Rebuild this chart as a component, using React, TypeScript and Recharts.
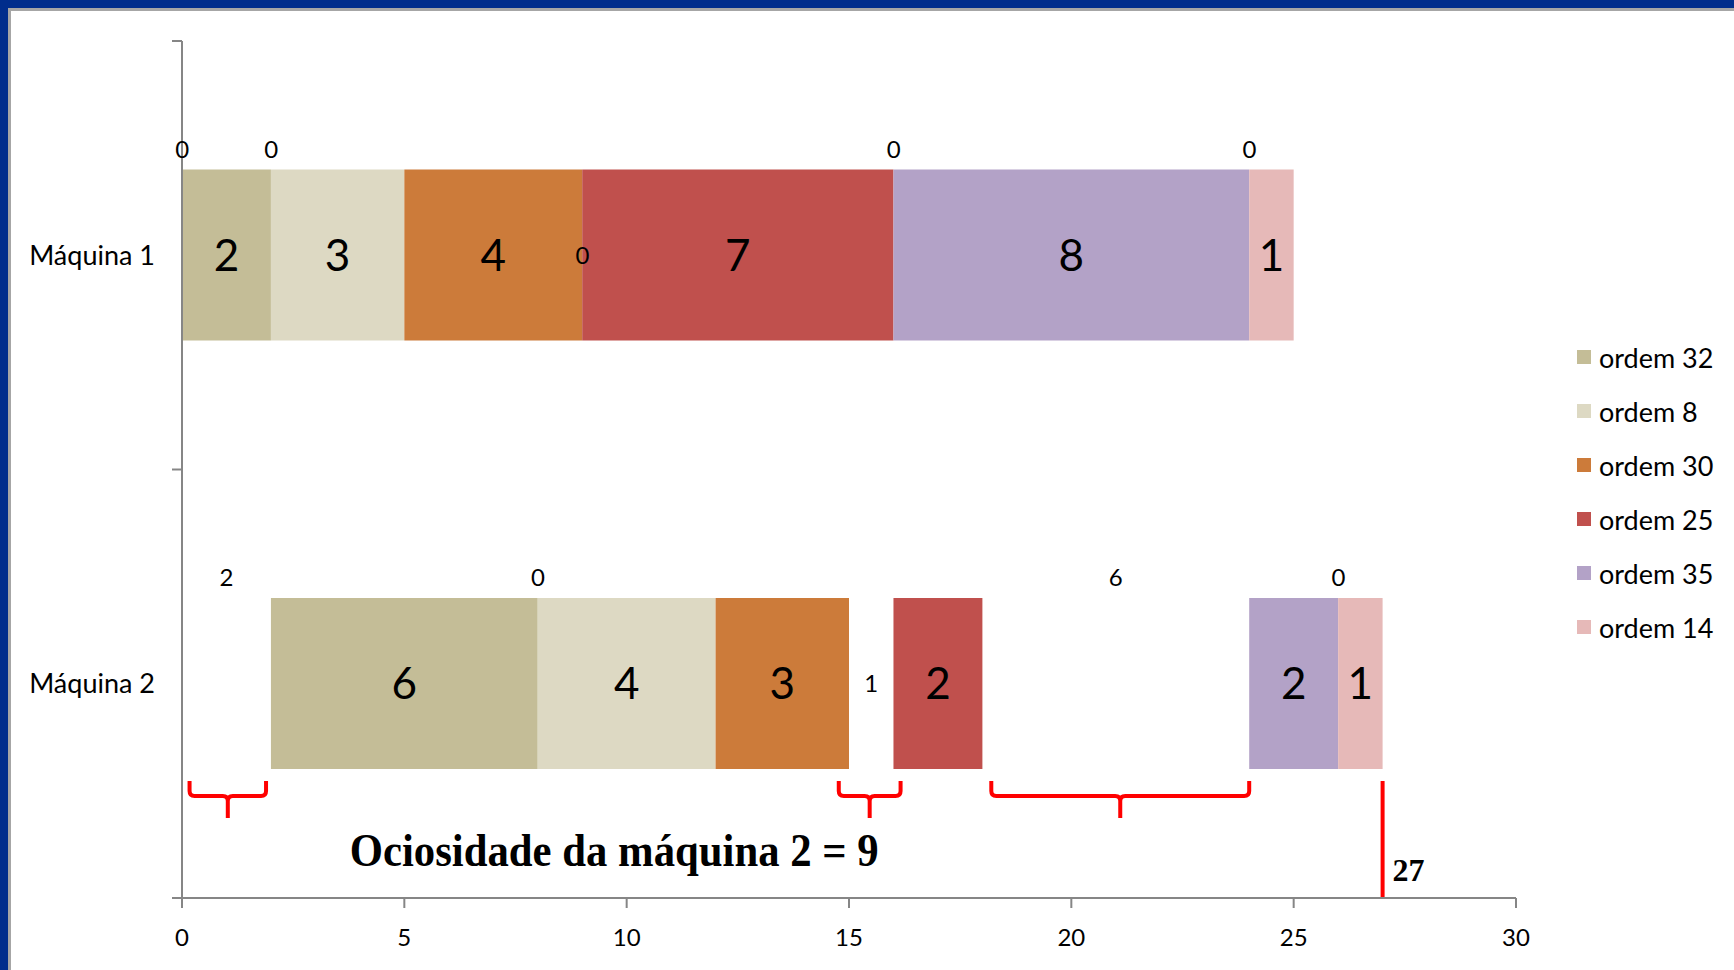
import React from 'react';
import { BarChart, Bar, XAxis, YAxis, LabelList, Legend, ReferenceLine, ReferenceDot } from 'recharts';

// ---- data ----
const machines = ['Máquina 1', 'Máquina 2'];
const orders = ['ordem 32', 'ordem 8', 'ordem 30', 'ordem 25', 'ordem 35', 'ordem 14'];
const orderColors = ['#C4BD97', '#DDD9C3', '#CC7B3A', '#C0504D', '#B3A2C7', '#E6B9B8'];
// idle time before each order (transparent stacked bars)
const waitMaquina1 = [0, 0, 0, 0, 0, 0];
const waitMaquina2 = [2, 0, 0, 1, 6, 0];
// processing time of each order
const procMaquina1 = [2, 3, 4, 7, 8, 1];
const procMaquina2 = [6, 4, 3, 2, 2, 1];
// where the idle-time label of each order is shown
const waitLabelPlacement = ['top', 'top', 'none', 'center', 'top', 'top'];
const xTicks = [0, 5, 10, 15, 20, 25, 30];
const yBoundaryTicks = [0, 1, 2];
// idle gaps on Máquina 2 marked by braces (start, end)
const idleBraceStart = [0.17, 14.77, 18.2];
const idleBraceEnd = [1.89, 16.16, 24.0];
const braceTop = 1.727;
const braceBar = 1.762;
const makespan = 27;
const idleText = 'Ociosidade da máquina 2 = 9';
const idleTextPos = { x: 9.72, y: 1.89 };
const makespanTextPos = { x: 27.22, y: 1.935 };

const waits = [waitMaquina1, waitMaquina2];
const procs = [procMaquina1, procMaquina2];

const data = machines.map((m, mi) => {
  const row: any = { machine: m };
  orders.forEach((_, oi) => {
    row[`w${oi}`] = waits[mi][oi];
    row[`p${oi}`] = procs[mi][oi];
  });
  return row;
});

const FONT = 'Lato, "Open Sans", sans-serif';
const AXIS = '#868686';

const Brace = (props: any) => {
  const { x1, y1, x2, y2 } = props;
  const l = Math.min(x1, x2);
  const r = Math.max(x1, x2);
  const top = Math.min(y1, y2);
  const bar = Math.max(y1, y2);
  const rad = 5;
  const stem = 22;
  const xm = (l + r) / 2;
  const d = `M${l},${top} L${l},${bar - rad} Q${l},${bar} ${l + rad},${bar} L${xm - rad},${bar} Q${xm},${bar} ${xm},${bar + rad} L${xm},${bar + stem} M${xm},${bar + rad} Q${xm},${bar} ${xm + rad},${bar} L${r - rad},${bar} Q${r},${bar} ${r},${bar - rad} L${r},${top}`;
  return <path d={d} fill="none" stroke="#FF0000" strokeWidth={4} strokeLinejoin="round" />;
};

const YTickMark = (props: any) => {
  const x = Math.min(props.x1, props.x2);
  return <line x1={x - 10} y1={props.y1} x2={x} y2={props.y1} stroke={AXIS} strokeWidth={2} />;
};

const renderLegend = () => (
  <div style={{ display: 'flex', flexDirection: 'column' }}>
    {orders.map((o, i) => (
      <div key={o} style={{ height: 54, display: 'flex', alignItems: 'center' }}>
        <span style={{ width: 14, height: 14, background: orderColors[i], marginRight: 8, display: 'inline-block' }} />
        <span style={{ fontFamily: FONT, fontSize: 27, color: '#000', lineHeight: '27px', whiteSpace: 'nowrap' }}>{o}</span>
      </div>
    ))}
  </div>
);

export default function App() {
  return (
    <div style={{ position: 'absolute', left: 0, top: 0, width: 1734, height: 970, background: '#002D8C', overflow: 'hidden' }}>
      <div style={{ position: 'absolute', left: 8, top: 8, right: 0, bottom: 0, background: '#fff', borderTop: '3px solid #A6A6A6', borderLeft: '3px solid #A6A6A6' }} />
      <div style={{ position: 'absolute', left: 0, top: 0 }}>
        <BarChart
          width={1734}
          height={970}
          data={data}
          layout="vertical"
          margin={{ top: 41, right: 218, bottom: 12, left: 12 }}
          barCategoryGap="30%"
        >
          <XAxis
            type="number"
            domain={[0, 30]}
            ticks={xTicks}
            height={60}
            axisLine={{ stroke: AXIS, strokeWidth: 2 }}
            tickLine={{ stroke: AXIS, strokeWidth: 2 }}
            tickSize={10}
            tickMargin={21}
            tick={{ fill: '#000', fontSize: 24, fontFamily: FONT }}
            allowDataOverflow
          />
          <YAxis
            type="category"
            dataKey="machine"
            width={170}
            axisLine={{ stroke: AXIS, strokeWidth: 2 }}
            tickLine={false}
            tickSize={0}
            tickMargin={27}
            tick={{ fill: '#000', fontSize: 27, fontFamily: FONT }}
          />
          <YAxis
            yAxisId="num"
            type="number"
            dataKey={() => 1}
            domain={[0, 2]}
            hide
            allowDataOverflow
          />
          <Legend
            layout="vertical"
            align="center"
            verticalAlign="middle"
            content={renderLegend}
            wrapperStyle={{ position: 'absolute', left: 1577, top: 330, width: 157 }}
          />
          {orders.map((o, i) => [
            <Bar
              key={`w${i}`}
              dataKey={`w${i}`}
              stackId="a"
              fill="transparent"
              legendType="none"
              minPointSize={0.5}
              isAnimationActive={false}
            >
              {waitLabelPlacement[i] !== 'none' && (
                <LabelList
                  dataKey={`w${i}`}
                  position={waitLabelPlacement[i] as any}
                  offset={12}
                  fill="#000"
                  fontSize={24}
                  fontFamily={FONT}
                />
              )}
            </Bar>,
            <Bar key={`p${i}`} dataKey={`p${i}`} name={o} stackId="a" fill={orderColors[i]} isAnimationActive={false}>
              <LabelList dataKey={`p${i}`} position="center" fill="#000" fontSize={44} fontFamily={FONT} />
            </Bar>,
          ])}
          {yBoundaryTicks.map((t) => (
            <ReferenceLine key={`yt${t}`} y={t} yAxisId="num" stroke="none" shape={YTickMark} ifOverflow="visible" />
          ))}
          {idleBraceStart.map((s, i) => (
            <ReferenceLine
              key={`brace${i}`}
              yAxisId="num"
              segment={[{ x: s, y: braceTop }, { x: idleBraceEnd[i], y: braceBar }]}
              shape={Brace}
              ifOverflow="visible"
            />
          ))}
          <ReferenceLine
            yAxisId="num"
            segment={[{ x: makespan, y: braceTop }, { x: makespan, y: 2 }]}
            stroke="#FF0000"
            strokeWidth={4}
            ifOverflow="visible"
          />
          <ReferenceDot
            yAxisId="num"
            x={idleTextPos.x}
            y={idleTextPos.y}
            r={0}
            ifOverflow="visible"
            shape={(p: any) => (
              <text
                x={p.cx}
                y={p.cy}
                textAnchor="middle"
                dominantBaseline="central"
                fontFamily='"Liberation Serif", "Times New Roman", serif'
                fontWeight="bold"
                fontSize={46}
                fill="#000"
                textLength={529}
                lengthAdjust="spacingAndGlyphs"
              >
                {idleText}
              </text>
            )}
          />
          <ReferenceDot
            yAxisId="num"
            x={makespanTextPos.x}
            y={makespanTextPos.y}
            r={0}
            ifOverflow="visible"
            shape={(p: any) => (
              <text
                x={p.cx}
                y={p.cy}
                textAnchor="start"
                dominantBaseline="central"
                fontFamily='"Liberation Serif", "Times New Roman", serif'
                fontWeight="bold"
                fontSize={32}
                fill="#000"
              >
                {String(makespan)}
              </text>
            )}
          />
        </BarChart>
      </div>
    </div>
  );
}
